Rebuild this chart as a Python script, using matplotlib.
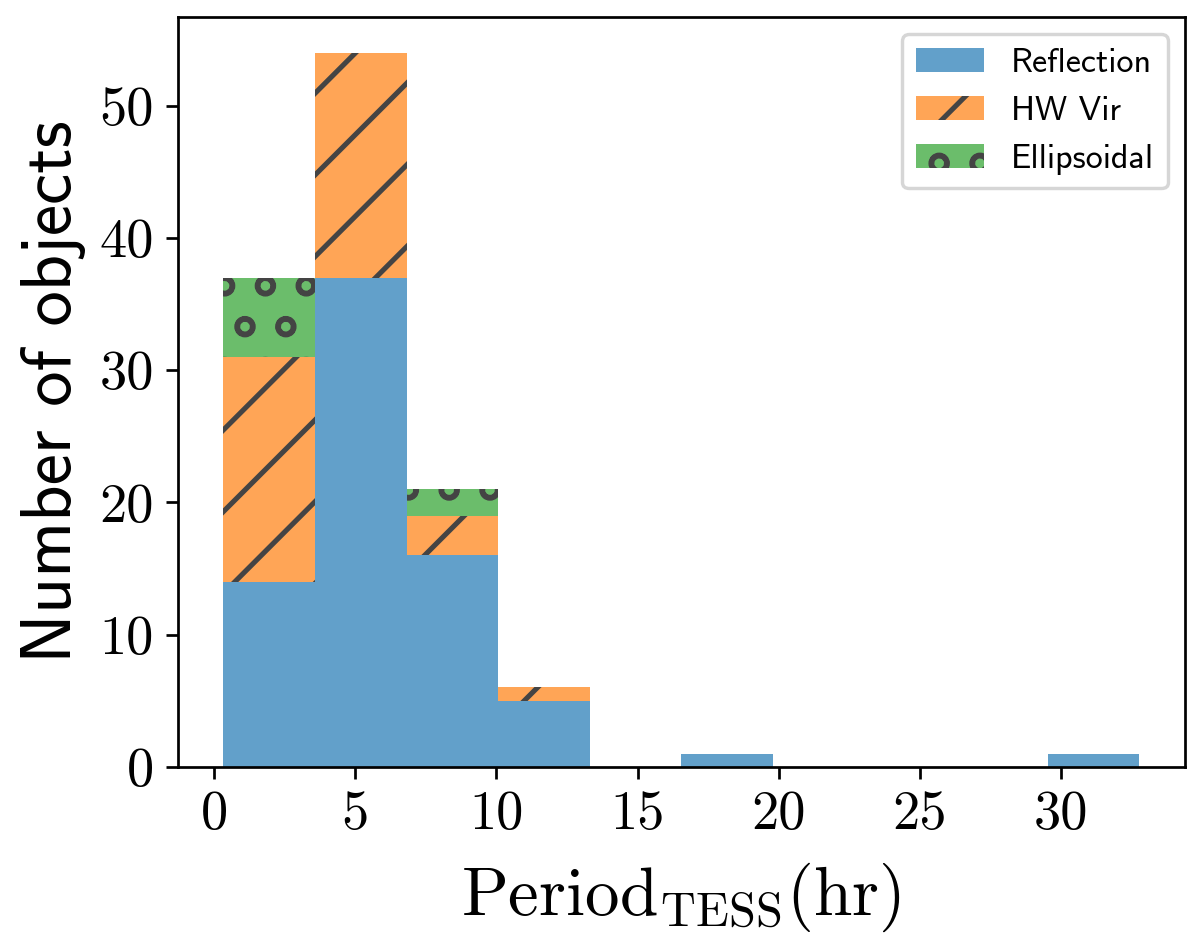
import numpy as np
import matplotlib
matplotlib.use('Agg')
import matplotlib.pyplot as plt

# histogram counts per bin
period_min = 0.33
period_max = 32.77
n_bins = 10
reflection = [14, 37, 16, 5, 0, 1, 0, 0, 0, 1]
hw_vir = [17, 17, 3, 1, 0, 0, 0, 0, 0, 0]
ellipsoidal = [6, 0, 2, 0, 0, 0, 0, 0, 0, 0]
labels = ['Reflection', 'HW Vir', 'Ellipsoidal']

colors = ['#62a0ca', '#ffa556', '#6bbd6b']
hatches = [None, '/', 'o']

plt.rcParams['mathtext.fontset'] = 'cm'
plt.rcParams['axes.unicode_minus'] = False
plt.rcParams['hatch.color'] = '#444444'
plt.rcParams['hatch.linewidth'] = 1.5

edges = np.linspace(period_min, period_max, n_bins + 1)
centers = 0.5 * (edges[:-1] + edges[1:])

dpi = 245
fig, ax = plt.subplots(figsize=(1200 / dpi, 949 / dpi), dpi=dpi)
fig.subplots_adjust(left=0.148, right=0.9875, top=0.982, bottom=0.192)

n, b, containers = ax.hist([centers] * 3, bins=edges,
                           weights=[reflection, hw_vir, ellipsoidal],
                           stacked=True, color=colors, label=labels,
                           linewidth=0)
for cont, h in zip(containers, hatches):
    for p in cont:
        p.set_hatch(h)
        p.set_linewidth(0)

ax.tick_params(labelsize=16)
ax.set_xticks([0, 5, 10, 15, 20, 25, 30])
ax.set_yticks([0, 10, 20, 30, 40, 50])
for lab in ax.get_xticklabels() + ax.get_yticklabels():
    lab.set_fontfamily('cmr10')

ax.set_xlabel(r'$\mathrm{Period}_{\mathrm{TESS}}(\mathrm{hr})$', fontsize=20.3,
              labelpad=6)
ax.set_ylabel('Number of objects', fontsize=20.7, fontfamily='cmss10')

ax.legend(loc='upper right', prop={'family': 'cmss10', 'size': 10})

fig.savefig('out.png', dpi=dpi)
